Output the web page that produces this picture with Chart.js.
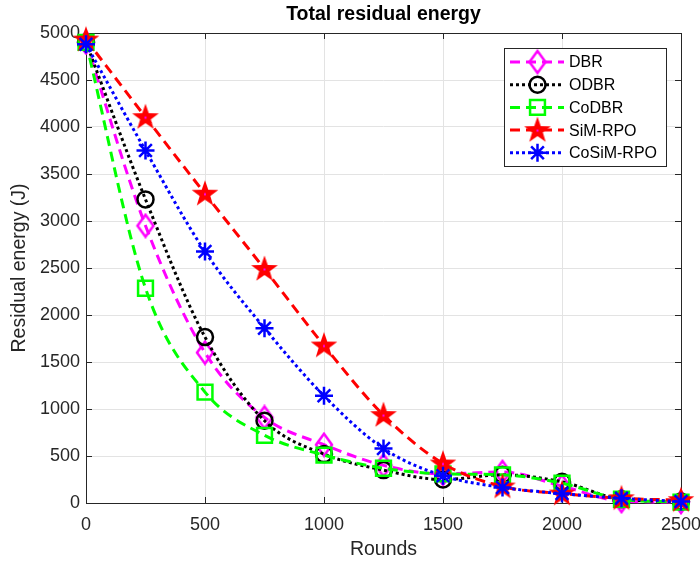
<!DOCTYPE html>
<html>
<head>
<meta charset="utf-8">
<script src="https://cdn.jsdelivr.net/npm/chart.js@4/dist/chart.umd.min.js"></script>
<style>
  html, body { margin: 0; padding: 0; background: #fff; }
  #wrap { width: 700px; height: 563px; }
</style>
</head>
<body>
<div id="wrap"><canvas id="energyChart" width="700" height="563"></canvas></div>
<script>
// === Data ===
const rounds = [0, 250, 500, 750, 1000, 1250, 1500, 1750, 2000, 2250, 2500];
const dbr     = [4900, 2950, 1600, 910, 620, 400, 310, 330, 180, 20, 10];
const odbr    = [4900, 3230, 1765, 875, 520, 350, 250, 300, 225, 40, 15];
const codbr   = [4900, 2285, 1180, 720, 510, 370, 310, 300, 210, 40, 10];
const simRpo  = [4930, 4105, 3290, 2490, 1675, 935, 420, 175, 100, 50, 30];
const cosimRpo = [4880, 3750, 2675, 1860, 1140, 580, 290, 165, 100, 50, 15];
const xTicks = [0, 500, 1000, 1500, 2000, 2500];

const FONT = '"Liberation Sans", Arial, Helvetica, sans-serif';
const TXT = '#262626';

// === Marker images ===
function makeStar() {
    const c = document.createElement('canvas');
    c.width = 30; c.height = 30;
    const g = c.getContext('2d');
    g.beginPath();
    for (let i = 0; i < 10; i++) {
        const r = i % 2 === 0 ? 14 : 5.6;
        const a = -Math.PI / 2 + i * Math.PI / 5;
        const px = 15 + r * Math.cos(a), py = 15.5 + r * Math.sin(a);
        if (i === 0) g.moveTo(px, py); else g.lineTo(px, py);
    }
    g.closePath();
    g.fillStyle = '#ff0000';
    g.fill();
    g.fillStyle = '#ff00ff';
    g.fillRect(14, 14.5, 2, 2);
    return c;
}
function makeDiamond() {
    const c = document.createElement('canvas');
    c.width = 22; c.height = 26;
    const g = c.getContext('2d');
    g.beginPath();
    g.moveTo(11, 2); g.lineTo(19, 13); g.lineTo(11, 24); g.lineTo(3, 13);
    g.closePath();
    g.strokeStyle = '#ff00ff';
    g.lineWidth = 2.5;
    g.stroke();
    return c;
}
const starImg = makeStar();
const diamondImg = makeDiamond();

function series(label, data, color, dash, style, radius, order) {
    return {
        label: label,
        data: rounds.map((r, i) => ({ x: r, y: data[i] })),
        borderColor: color,
        backgroundColor: color,
        borderWidth: 3,
        borderDash: dash,
        cubicInterpolationMode: 'monotone',
        pointStyle: style,
        pointRadius: radius,
        pointBorderWidth: 2.5,
        pointBorderColor: color,
        pointBackgroundColor: 'rgba(0,0,0,0)',
        fill: false,
        clip: false,
        order: order
    };
}

const datasets = [
    series('DBR', dbr, '#ff00ff', [10, 6], diamondImg, 10, 5),
    series('ODBR', odbr, '#000000', [3, 3], 'circle', 8, 4),
    series('CoDBR', codbr, '#00ff00', [10, 6], 'rect', 10.5, 3),
    series('SiM-RPO', simRpo, '#ff0000', [10, 6], starImg, 14, 2),
    series('CoSiM-RPO', cosimRpo, '#0000ff', [3, 3], 'star', 9, 1)
];

// === Frame, ticks, titles, legend ===
const decorations = {
    id: 'decorations',
    beforeDatasetsDraw(chart) {
        const ctx = chart.ctx;
        const a = chart.chartArea;
        const xs = chart.scales.x, ys = chart.scales.y;
        ctx.save();
        ctx.strokeStyle = TXT;
        ctx.lineWidth = 1;
        ctx.strokeRect(Math.round(a.left) + 0.5, Math.round(a.top) + 0.5,
            Math.round(a.right - a.left), Math.round(a.bottom - a.top));
        ctx.beginPath();
        xTicks.forEach(v => {
            const px = Math.round(xs.getPixelForValue(v)) + 0.5;
            ctx.moveTo(px, a.bottom); ctx.lineTo(px, a.bottom - 6);
            ctx.moveTo(px, a.top); ctx.lineTo(px, a.top + 6);
        });
        for (let v = 0; v <= 5000; v += 500) {
            const py = Math.round(ys.getPixelForValue(v)) + 0.5;
            ctx.moveTo(a.left, py); ctx.lineTo(a.left + 6, py);
            ctx.moveTo(a.right, py); ctx.lineTo(a.right - 6, py);
        }
        ctx.stroke();
        ctx.restore();
    },
    afterDraw(chart) {
        const ctx = chart.ctx;
        const a = chart.chartArea;
        ctx.save();
        // title
        ctx.fillStyle = '#000';
        ctx.font = 'bold 19.5px ' + FONT;
        ctx.textAlign = 'center';
        ctx.textBaseline = 'middle';
        ctx.fillText('Total residual energy', (a.left + a.right) / 2, 15);
        // axis titles
        ctx.fillStyle = TXT;
        ctx.font = '19.5px ' + FONT;
        ctx.fillText('Rounds', (a.left + a.right) / 2, 550);
        ctx.save();
        ctx.translate(20, (a.top + a.bottom) / 2);
        ctx.rotate(-Math.PI / 2);
        ctx.fillText('Residual energy (J)', 0, 0);
        ctx.restore();
        // legend
        const lx = 504, ly = 48, lw = 162, lh = 118;
        ctx.fillStyle = '#fff';
        ctx.fillRect(lx, ly, lw, lh);
        ctx.strokeStyle = TXT;
        ctx.lineWidth = 1;
        ctx.strokeRect(lx + 0.5, ly + 0.5, lw, lh);
        ctx.font = '16px ' + FONT;
        ctx.textAlign = 'left';
        datasets.forEach((ds, i) => {
            const cy = 62 + i * 22.7;
            ctx.strokeStyle = ds.borderColor;
            ctx.lineWidth = 3;
            ctx.setLineDash(ds.borderDash);
            ctx.beginPath();
            ctx.moveTo(510, cy); ctx.lineTo(564, cy);
            ctx.stroke();
            ctx.setLineDash([]);
            ctx.lineWidth = 2.5;
            ctx.fillStyle = 'rgba(0,0,0,0)';
            Chart.helpers.drawPoint(ctx, {
                pointStyle: ds.pointStyle, radius: ds.pointRadius,
                rotation: 0, borderWidth: 2.5
            }, 537.5, cy);
            ctx.fillStyle = '#000';
            ctx.fillText(ds.label, 569, cy + 1);
        });
        ctx.restore();
    }
};

new Chart(document.getElementById('energyChart'), {
    type: 'line',
    data: { datasets: datasets },
    options: {
        responsive: false,
        animation: false,
        layout: { padding: { top: 33, right: 19, left: 0, bottom: 0 } },
        plugins: { legend: { display: false }, tooltip: { enabled: false }, title: { display: false } },
        scales: {
            x: {
                type: 'linear', min: 0, max: 2500,
                afterBuildTicks: s => { s.ticks = xTicks.map(v => ({ value: v })); },
                afterFit: s => { s.height = 60; s.paddingLeft = 0; s.paddingRight = 0; },
                grid: { color: '#e3e3e3', drawTicks: false },
                border: { display: false },
                ticks: { color: TXT, font: { family: FONT, size: 18 }, padding: 11, maxRotation: 0,
                         callback: v => String(v) }
            },
            y: {
                min: 0, max: 5000,
                afterFit: s => { s.width = 86; s.paddingTop = 0; s.paddingBottom = 0; },
                grid: { color: '#e3e3e3', drawTicks: false },
                border: { display: false },
                ticks: { stepSize: 500, color: TXT, font: { family: FONT, size: 18 }, padding: 6,
                         callback: v => String(v) }
            }
        }
    },
    plugins: [decorations]
});
</script>
</body>
</html>
